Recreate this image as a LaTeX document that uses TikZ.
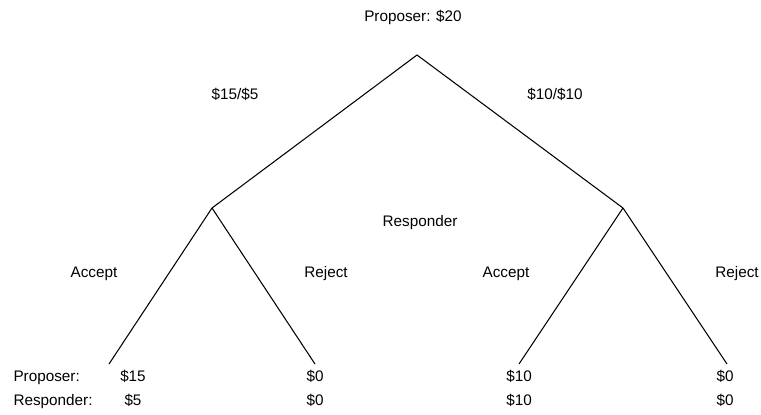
\documentclass[tikz,border=0pt]{standalone}
\usepackage{fontspec}
\setmainfont{Liberation Sans}
\usetikzlibrary{positioning}

\begin{document}
\begin{tikzpicture}[x=0.02cm,y=-0.02cm,line width=0.6pt,
    lbl/.style={anchor=base,inner sep=0pt,font=\fontsize{8.7pt}{10pt}\selectfont}]
    \useasboundingbox (0,0) rectangle (761,414);

    % tree
    \coordinate (root) at (417,55);
    \coordinate (split) at (212,208);
    \coordinate (even) at (623,208);
    \coordinate (splitA) at (109,364);
    \coordinate (splitR) at (315,364);
    \coordinate (evenA) at (519,364);
    \coordinate (evenR) at (727,364);

    \draw (splitA) -- (split) -- (root) -- (even) -- (evenR);
    \draw (split) -- (splitR);
    \draw (even) -- (evenA);

    \node[lbl] (prop) at (413,21) {Proposer: \$20};
    \node[lbl] (offerL) at (235,99) {\$15/\$5};
    \node[lbl] (offerR) at (555,99) {\$10/\$10};
    \node[lbl] (resp) at (420,226) {Responder};
    \node[lbl] (accL) at (94,277) {Accept};
    \node[lbl] (rejL) at (326,277) {Reject};
    \node[lbl] (accR) at (506,277) {Accept};
    \node[lbl] (rejR) at (737,277) {Reject};

    % payoffs
    \node[lbl,anchor=base west] (rowP) at (13,381) {Proposer:};
    \node[lbl,anchor=base west] (rowR) at (13,405) {Responder:};
    \node[lbl] (p1) at (133,381) {\$15};
    \node[lbl] (r1) at (133,405) {\$5};
    \node[lbl] (p2) at (315,381) {\$0};
    \node[lbl] (r2) at (315,405) {\$0};
    \node[lbl] (p3) at (519,381) {\$10};
    \node[lbl] (r3) at (519,405) {\$10};
    \node[lbl] (p4) at (725,381) {\$0};
    \node[lbl] (r4) at (725,405) {\$0};
  \end{tikzpicture}
\end{document}
